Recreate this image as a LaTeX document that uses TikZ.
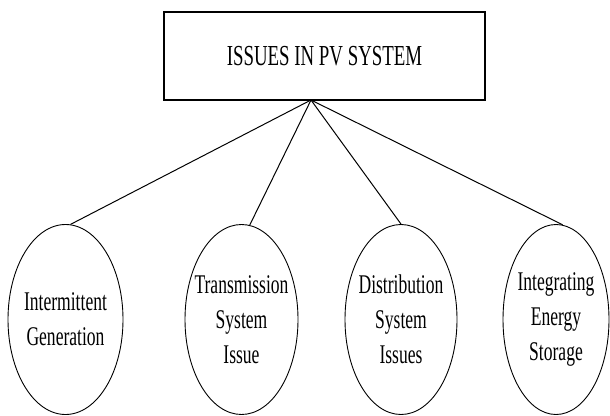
\documentclass[tikz,border=0pt]{standalone}
\usepackage{fontspec}
\setmainfont[FakeStretch=0.65]{Liberation Serif}
\usetikzlibrary{shapes.geometric}
\begin{document}
\begin{tikzpicture}[x=1pt,y=-1pt,
  titlebox/.style={draw, line width=1.4pt, minimum width=321pt, minimum height=88pt, inner sep=0pt, font=\fontsize{29}{34}\selectfont},
  issue/.style={draw, ellipse, line width=0.9pt, minimum height=190pt, inner sep=0pt},
  issuetext/.style={align=center, inner sep=0pt, font=\fontsize{27}{35}\selectfont},
  link/.style={line width=1pt}]
\useasboundingbox (0,0) rectangle (610,415);
\node[titlebox] (title) at (324.5,56) {ISSUES IN PV SYSTEM};
\coordinate (apex) at (311,100);
\node[issue, minimum width=115pt] (e1) at (65.5,319.5) {};
\node[issue, minimum width=113pt] (e2) at (241.5,319.5) {};
\node[issue, minimum width=112pt] (e3) at (401,319.5) {};
\node[issue, minimum width=106pt] (e4) at (556,319.5) {};
\node[issuetext] (t1) at (e1) {Intermittent\\Generation};
\node[issuetext] (t2) at (e2) {Transmission\\System\\Issue};
\node[issuetext] (t3) at (e3) {Distribution\\System\\Issues};
\node[issuetext] (t4) at (e4) {Integrating\\Energy\\Storage};
\draw[link] (apex) -- (e1.87);
\draw[link] (apex) -- (e2.85);
\draw[link] (apex) -- (e3.north);
\draw[link] (apex) -- (e4.86);
\end{tikzpicture}
\end{document}
